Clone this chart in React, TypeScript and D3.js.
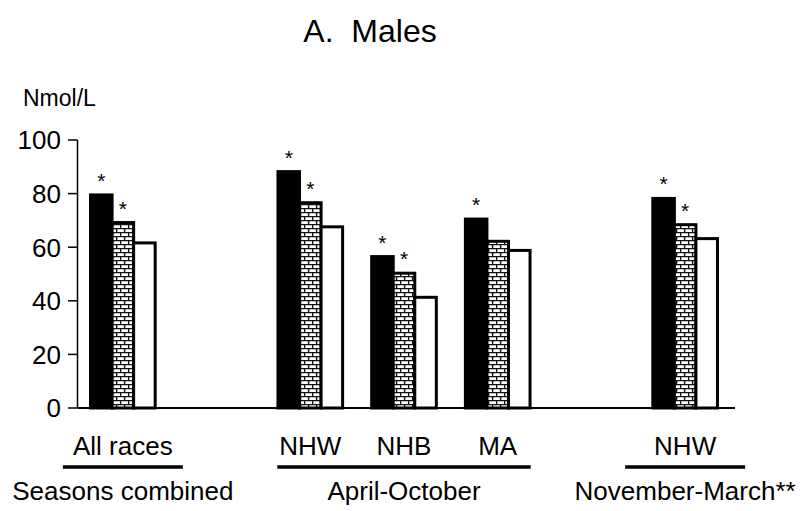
import React from "react";
import * as d3 from "d3";

const slots = ["All races", "gap1", "NHW", "NHB", "MA", "gap2", "NHW2"];
const categoryLabels = ["All races", "", "NHW", "NHB", "MA", "", "NHW"];
const seriesKeys = ["black", "brick", "white"];
const blackValues = [79.5, null, 88.2, 56.5, 70.5, null, 78.2];
const brickValues = [69.2, null, 76.6, 50.3, 62.2, null, 68.4];
const whiteValues = [61.6, null, 67.6, 41.3, 58.8, null, 63.2];
const blackStars = [true, false, true, true, true, false, true];
const brickStars = [true, false, true, true, false, false, true];
const yTicks = [0, 20, 40, 60, 80, 100];
const seasonGroups = [
  { label: "Seasons combined", from: "All races", to: "All races" },
  { label: "April-October", from: "NHW", to: "MA" },
  { label: "November-March**", from: "NHW2", to: "NHW2" },
];

const W = 800;
const H = 511;
const FONT = "'Liberation Sans', Arial, sans-serif";

export default function App() {
  const x0 = d3
    .scaleBand<string>()
    .domain(slots)
    .range([76, 732])
    .paddingInner(0.31)
    .paddingOuter(0.155);
  const x1 = d3.scaleBand<string>().domain(seriesKeys).range([0, x0.bandwidth()]);
  const y = d3.scaleLinear().domain([0, 100]).range([408, 140]);

  const seriesData: Record<string, (number | null)[]> = {
    black: blackValues,
    brick: brickValues,
    white: whiteValues,
  };
  const fills: Record<string, string> = {
    black: "#000",
    brick: "url(#brick)",
    white: "#fff",
  };
  const stars: Record<string, boolean[]> = { black: blackStars, brick: brickStars };

  const axisX = 77.5;

  return (
    <svg
      width={W}
      height={H}
      style={{ position: "absolute", left: 0, top: 0, background: "#fff" }}
      fontFamily={FONT}
    >
      <defs>
        <pattern id="brick" width={8} height={8} patternUnits="userSpaceOnUse">
          <rect width={8} height={8} fill="#fff" />
          <path
            d="M0,0.6H8M0,4.6H8M0.6,0V4.6M4.6,4.6V8"
            stroke="#111"
            strokeWidth={1.4}
            fill="none"
          />
        </pattern>
      </defs>

      <text x={370} y={42} textAnchor="middle" fontSize={32} fill="#000">
        A.&#160;&#160;Males
      </text>
      <text x={23} y={106} fontSize={23} fill="#000">
        Nmol/L
      </text>

      {/* y axis */}
      <line x1={axisX} x2={axisX} y1={y(100)} y2={y(0)} stroke="#000" strokeWidth={1.5} />
      {yTicks.map((t) => (
        <g key={t}>
          <line x1={68} x2={axisX} y1={y(t)} y2={y(t)} stroke="#000" strokeWidth={1.5} />
          <text
            x={61}
            y={y(t)}
            dy="0.36em"
            textAnchor="end"
            fontSize={26}
            fill="#000"
          >
            {t}
          </text>
        </g>
      ))}

      {/* bars */}
      {slots.map((s, i) =>
        seriesKeys.map((k) => {
          const v = seriesData[k][i];
          if (v == null) return null;
          const bx = (x0(s) as number) + (x1(k) as number);
          const bw = x1.bandwidth();
          return (
            <g key={s + k}>
              <rect
                x={bx}
                y={y(v)}
                width={bw}
                height={y(0) - y(v)}
                fill={fills[k]}
                stroke="#000"
                strokeWidth={3}
              />
              {stars[k] && stars[k][i] ? (
                <text
                  x={bx + bw / 2}
                  y={y(v) - 7}
                  textAnchor="middle"
                  fontSize={21}
                  fill="#000"
                >
                  *
                </text>
              ) : null}
            </g>
          );
        })
      )}

      {/* x baseline */}
      <line x1={axisX} x2={735} y1={y(0)} y2={y(0)} stroke="#000" strokeWidth={2} />

      {/* category labels */}
      {slots.map((s, i) =>
        categoryLabels[i] ? (
          <text
            key={"c" + s}
            x={(x0(s) as number) + x0.bandwidth() / 2}
            y={455}
            textAnchor="middle"
            fontSize={26}
            fill="#000"
          >
            {categoryLabels[i]}
          </text>
        ) : null
      )}

      {/* season groups */}
      {seasonGroups.map((g) => {
        const left = (x0(g.from) as number) + x0.bandwidth() / 2;
        const right = (x0(g.to) as number) + x0.bandwidth() / 2;
        const cx = (left + right) / 2;
        const half = g.from === g.to ? 60 : (right - left) / 2 + 33;
        return (
          <g key={g.label}>
            <line
              x1={cx - half}
              x2={cx + half}
              y1={467}
              y2={467}
              stroke="#000"
              strokeWidth={3.5}
            />
            <text x={cx} y={500} textAnchor="middle" fontSize={26} fill="#000">
              {g.label}
            </text>
          </g>
        );
      })}
    </svg>
  );
}
